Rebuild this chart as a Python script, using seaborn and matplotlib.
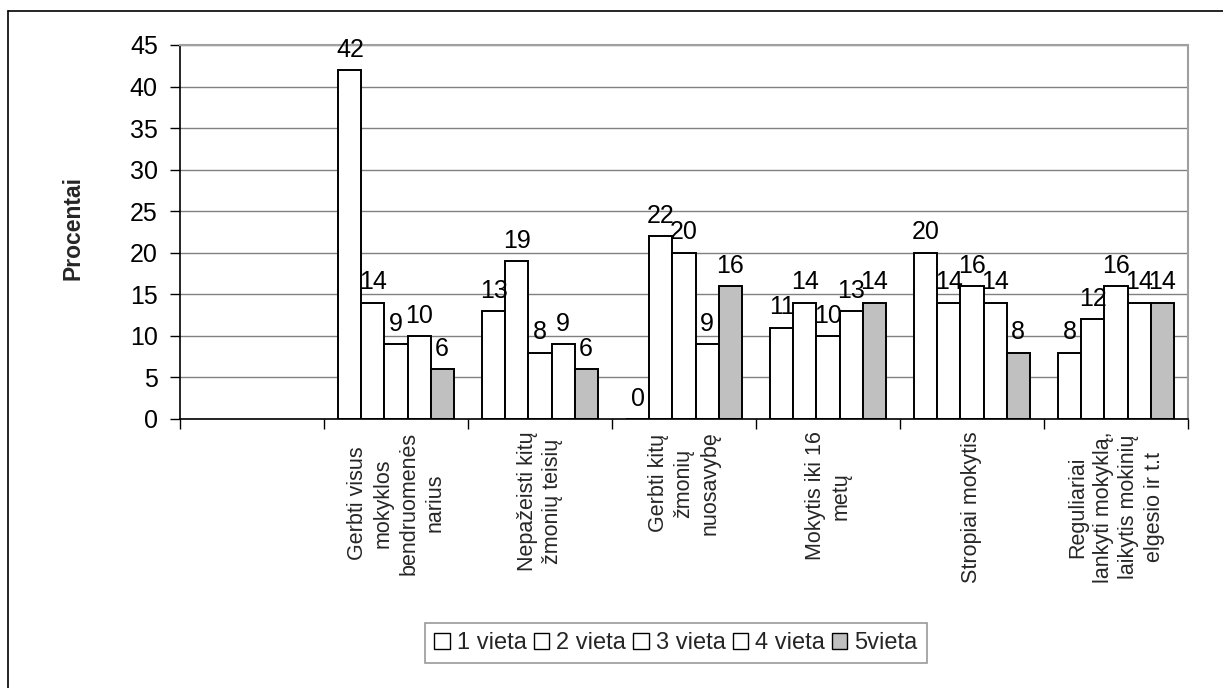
import numpy as np
import pandas as pd
import seaborn as sns
import matplotlib
matplotlib.use("Agg")
import matplotlib.pyplot as plt
from matplotlib.lines import Line2D
from matplotlib.patches import Patch

categories = [
    "",
    "Gerbti visus\nmokyklos\nbendruomenės\nnarius",
    "Nepažeisti kitų\nžmonių teisių",
    "Gerbti kitų\nžmonių\nnuosavybę",
    "Mokytis iki 16\nmetų",
    "Stropiai mokytis",
    "Reguliariai\nlankyti mokyklą,\nlaikytis mokinių\nelgesio ir t.t",
]
series_names = ["1 vieta", "2 vieta", "3 vieta", "4 vieta", "5vieta"]
vieta1 = [42, 13, 0, 11, 20, 8]
vieta2 = [14, 19, 22, 14, 14, 12]
vieta3 = [9, 8, 20, 10, 16, 16]
vieta4 = [10, 9, 9, 13, 14, 14]
vieta5 = [6, 6, 16, 14, 8, 14]
colors = ["#ffffff", "#ffffff", "#ffffff", "#ffffff", "#c0c0c0"]
y_ticks = [0, 5, 10, 15, 20, 25, 30, 35, 40, 45]

rows = []
for name, vals in zip(series_names, [vieta1, vieta2, vieta3, vieta4, vieta5]):
    for cat, v in zip(categories[1:], vals):
        rows.append({"cat": cat, "series": name, "value": v})
df = pd.DataFrame(rows)

sns.set_theme(style="white")
plt.rcParams["font.family"] = ["Liberation Sans", "DejaVu Sans"]

W, H = 1223, 688
fig = plt.figure(figsize=(W / 100, H / 100), dpi=100)
ax = fig.add_axes([180 / W, 1 - 419 / H, (1188 - 180) / W, (419 - 45) / H])

sns.barplot(data=df, x="cat", y="value", hue="series", order=categories,
            hue_order=series_names, palette=colors, saturation=1,
            edgecolor="black", linewidth=1.4, width=0.8, ax=ax, legend=False,
            errorbar=None)

for cont in ax.containers:
    ax.bar_label(cont, fmt="%g", padding=6, fontsize=18, color="black")

ax.set_xlim(-0.5, len(categories) - 0.5)
ax.set_ylim(0, 45)
ax.set_yticks(y_ticks)
ax.tick_params(axis="y", labelsize=18, length=7, width=1, direction="out",
               left=True, pad=9, colors="black")
ax.set_xticks(range(len(categories)))
ax.set_xticklabels(categories, rotation=90, fontsize=15.5, ha="center", va="top",
                   multialignment="center", linespacing=1.3)
ax.tick_params(axis="x", which="major", length=0, pad=9)
ax.set_xticks(np.arange(-0.5, len(categories), 1.0), minor=True)
ax.tick_params(axis="x", which="minor", length=7, width=1, direction="out",
               bottom=True, color="black")
ax.set_xlabel("")

ax.grid(axis="y", color="#808080", linewidth=1)
ax.grid(axis="x", visible=False)
ax.set_axisbelow(True)
for side in ["left", "bottom"]:
    ax.spines[side].set_color("black")
    ax.spines[side].set_linewidth(1.2)
for side in ["top", "right"]:
    ax.spines[side].set_visible(True)
    ax.spines[side].set_color("#a0a0a0")
    ax.spines[side].set_linewidth(1.5)

ax.set_ylabel("Procentai", fontsize=16.5, fontweight="bold")
ax.yaxis.set_label_coords((73 - 180) / (1188 - 180), 0.51)
ax.yaxis.label.set_va("center")

handles = [Patch(facecolor=c, edgecolor="black", linewidth=1) for c in colors]
leg = fig.legend(handles, series_names, loc="center", bbox_to_anchor=(676 / W, 1 - 643 / H),
                 ncol=5, fontsize=17, frameon=True, fancybox=False,
                 handlelength=0.65, handleheight=0.65, handletextpad=0.3,
                 columnspacing=0.3, borderpad=0.4, borderaxespad=0)
leg.get_frame().set_edgecolor("#808080")
leg.get_frame().set_linewidth(1.2)

fig.add_artist(Line2D([7.5 / W, 7.5 / W], [0, 1 - 11 / H], color="black", linewidth=1.2,
                      transform=fig.transFigure))
fig.add_artist(Line2D([7.5 / W, 1], [1 - 11 / H, 1 - 11 / H], color="black", linewidth=1.2,
                      transform=fig.transFigure))

fig.savefig("out.png", dpi=100)
